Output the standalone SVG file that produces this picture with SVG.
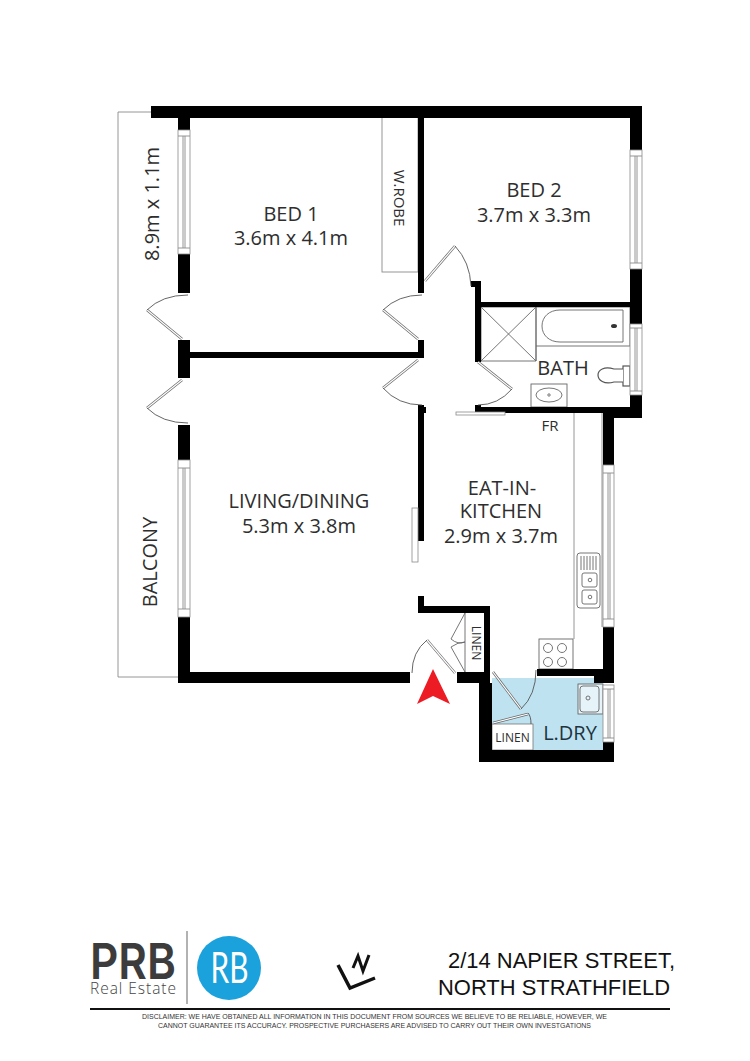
<svg xmlns="http://www.w3.org/2000/svg" width="750" height="1061" viewBox="0 0 750 1061">
<style>
.w{fill:#000}
.f{fill:#fff;stroke:#8a8a8a;stroke-width:.8}
.l{fill:none;stroke:#8a8a8a;stroke-width:.9}
.d{fill:none;stroke:#555;stroke-width:.9}
.k{fill:none;stroke:#666;stroke-width:.9}
.leaf{fill:none;stroke:#666;stroke-width:2.6;stroke-linecap:butt}
.leafi{fill:none;stroke:#fff;stroke-width:1.2}
text{font-family:"Open Sans","Liberation Sans",sans-serif;fill:#2e2e2e;text-anchor:middle}
.t20{font-size:20px}
.a{font-family:"Liberation Sans",Arial,sans-serif;fill:#111;font-size:22px;text-anchor:start}
.c{font-family:"Liberation Sans",Arial,sans-serif;fill:#333;font-size:7px;text-anchor:start}
</style>
<rect width="750" height="1061" fill="#fff"/>
<g id="floors">
<rect x="492" y="678" width="111" height="72" fill="#bee2f0"/>
<rect x="492" y="724" width="41" height="26" fill="#fff" stroke="#777" stroke-width=".8"/>
</g>
<g id="fixtures">
<path class="l" d="M151 112H118V677H178"/>
<rect class="l" x="382" y="112" width="36" height="160"/>
<path class="k" d="M481 307H536V361H481ZM481 307L536 361M536 307L481 361"/>
<path class="k" d="M536 307H630V346H536Z"/>
<path class="k" d="M623 310V342H560C549 342 542 335 542 326C542 317 549 310 560 310Z"/>
<ellipse cx="614" cy="326" rx="3" ry="2" fill="#333"/>
<path class="k" d="M536 346V361"/>
<rect class="k" x="531" y="384" width="36" height="23"/>
<ellipse class="k" cx="549" cy="395" rx="13" ry="7"/>
<circle class="k" cx="549" cy="395" r="1.2"/>
<rect x="623" y="366" width="7" height="20" fill="#fff" stroke="#555" stroke-width="1.2"/>
<path d="M623 369H614C604 366 598 370 598 375C598 380 604 385 614 382H623" fill="#fff" stroke="#555" stroke-width="1.2"/>
<path class="l" d="M574 413V639M602 413V627"/>
<rect class="k" x="539" y="639" width="34" height="30"/>
<circle class="k" cx="548" cy="648" r="4.5"/><circle class="k" cx="562" cy="648" r="4.5"/>
<circle class="k" cx="548" cy="662" r="4.5"/><circle class="k" cx="562" cy="662" r="4.5"/>
<rect class="k" x="577" y="553" width="23" height="55" rx="3"/>
<path class="k" d="M581 556V570M584 556V570M587 556V570M590 556V570M593 556V570M596 556V570"/>
<rect class="k" x="582" y="573" width="15" height="14" rx="2"/><circle class="k" cx="590" cy="580" r="1.8"/>
<rect class="k" x="582" y="590" width="15" height="14" rx="2"/><circle class="k" cx="590" cy="597" r="1.8"/>
<rect x="578" y="684" width="25" height="30" fill="#e6f3f8" stroke="#666" stroke-width=".9"/>
<rect class="k" x="580" y="686" width="19" height="26" rx="3"/>
<circle class="k" cx="588" cy="698" r="2"/>
</g>
<g id="walls" class="w">
<rect x="151" y="106" width="491" height="12"/>
<rect x="178" y="118" width="12" height="12"/>
<rect x="178" y="254" width="12" height="39"/>
<rect x="178" y="340" width="12" height="38"/>
<rect x="190" y="352" width="233" height="6"/>
<rect x="178" y="425" width="12" height="35"/>
<rect x="178" y="617" width="12" height="66"/>
<rect x="178" y="672" width="232" height="11"/>
<rect x="418" y="118" width="6" height="175"/>
<rect x="418" y="340" width="6" height="18"/>
<rect x="418" y="405" width="6" height="136"/>
<rect x="424" y="407" width="2" height="6"/>
<rect x="630" y="118" width="12" height="32"/>
<rect x="630" y="269" width="12" height="55"/>
<rect x="481" y="302" width="149" height="5"/>
<rect x="471" y="281" width="10" height="6"/>
<rect x="475" y="281" width="6" height="81"/>
<rect x="475" y="405" width="6" height="8"/>
<path d="M481 407H630V395H642V418H614V465H603V413H481Z"/>
<rect x="418" y="596" width="6" height="17"/>
<rect x="418" y="606" width="72" height="7"/>
<rect x="484" y="606" width="6" height="66"/>
<rect x="457" y="672" width="33" height="11"/>
<rect x="479" y="683" width="13" height="79"/>
<rect x="484" y="672" width="6" height="11"/>
<rect x="479" y="750" width="135" height="12"/>
<rect x="603" y="742" width="11" height="8"/>
<rect x="603" y="627" width="11" height="56"/>
<rect x="537" y="669" width="77" height="7"/>
<rect x="594" y="669" width="20" height="14"/>
</g>
<g id="windows">
<rect class="f" x="178" y="130" width="12" height="124"/><path class="l" d="M178 136H190M178 248H190M183 136V248M185 136V248"/>
<rect class="f" x="178" y="460" width="12" height="157"/><path class="l" d="M178 468H190M178 609H190M183 468V609M185 468V609"/>
<rect class="f" x="630" y="150" width="12" height="119"/><path class="l" d="M630 156H642M630 263H642M635 156V263M637 156V263"/>
<rect class="f" x="630" y="324" width="12" height="71"/><path class="l" d="M630 328H642M630 391H642M635 328V391M637 328V391"/>
<rect class="f" x="603" y="465" width="11" height="162"/><path class="l" d="M603 473H614M603 619H614M608 473V619M610 473V619"/>
<rect class="f" x="603" y="685" width="11" height="57"/><path class="l" d="M603 689H614M603 738H614M608 689V738M610 689V738"/>
</g>
<g id="doors">
<path class="leaf" d="M182 339L147 310"/><path class="leafi" d="M182 339L147 310"/><path class="d" d="M147 310Q162 295 188 295"/>
<path class="leaf" d="M182 380L147 408"/><path class="leafi" d="M182 380L147 408"/><path class="d" d="M147 408Q162 423 188 423"/>
<path class="leaf" d="M425 281L455 246"/><path class="leafi" d="M425 281L455 246"/><path class="d" d="M455 246Q470 262 471 286"/>
<path class="leaf" d="M418 339L383 310"/><path class="leafi" d="M418 339L383 310"/><path class="d" d="M383 310Q398 295 422 295"/>
<path class="leaf" d="M418 360L383 388"/><path class="leafi" d="M418 360L383 388"/><path class="d" d="M383 388Q398 405 422 405"/>
<path class="leaf" d="M478 362L512 389"/><path class="leafi" d="M478 362L512 389"/><path class="d" d="M512 389Q498 405 478 405"/>
<rect class="f" x="456" y="412" width="49" height="3"/>
<rect class="f" x="412" y="508" width="6" height="54"/>
<path class="k" d="M465 613V672"/>
<path class="k" d="M465 613L451 639Q458 645 465 642Q458 642 451 647L465 672"/>
<path class="leaf" d="M455 673L427 640"/><path class="leafi" d="M455 673L427 640"/><path class="d" d="M427 640Q412 652 412 673"/>
<path class="leaf" d="M493 672L521 709"/><path class="leafi" d="M493 672L521 709"/><path class="d" d="M521 709Q536 695 536 670"/>
<path class="leaf" d="M493 723L528 714"/><path class="leafi" d="M493 723L528 714"/><path class="d" d="M528 713Q531 716 531 724"/>
</g>
<g id="entry"><polygon points="433,669 450,704 433,696 417,704" fill="#ed1c24"/></g>
<g id="labels">
<text class="t20" x="291" y="221">BED 1</text>
<text class="t20" x="291" y="245">3.6m x 4.1m</text>
<text class="t20" x="534" y="197">BED 2</text>
<text class="t20" x="534" y="222">3.7m x 3.3m</text>
<text class="t20" x="299" y="508">LIVING/DINING</text>
<text class="t20" x="299" y="533">5.3m x 3.8m</text>
<text class="t20" x="502" y="495">EAT-IN-</text>
<text class="t20" x="501" y="518">KITCHEN</text>
<text class="t20" x="501" y="543">2.9m x 3.7m</text>
<text class="t20" x="563" y="375">BATH</text>
<text style="font-size:15px" x="550" y="431">FR</text>
<text class="t20" transform="translate(159 204) rotate(-90)">8.9m x 1.1m</text>
<text class="t20" transform="translate(157 562) rotate(-90)">BALCONY</text>
<text style="font-size:15px" transform="translate(394 198) rotate(90)">W.ROBE</text>
<text style="font-size:12px" transform="translate(472 643) rotate(90)">LINEN</text>
<text style="font-size:12px" x="512.500" y="742">LINEN</text>
<text style="font-size:20px;fill:#1d3440" x="570" y="740">L.DRY</text>
</g>
<g id="footer">
<text x="90" y="979" textLength="86" lengthAdjust="spacingAndGlyphs" style="font-size:50px;font-weight:600;fill:#3c3c3c;text-anchor:start;font-family:Inter,'Open Sans',sans-serif">PRB</text>
<text x="90" y="994" textLength="86" style="font-size:15.500px;font-weight:300;fill:#444;text-anchor:start;font-family:'Open Sans',sans-serif">Real Estate</text>
<rect x="186.500" y="931" width="1" height="73" fill="#666"/>
<circle cx="229" cy="968" r="32" fill="#1ba1dc"/>
<text x="229.500" y="983" textLength="38" lengthAdjust="spacingAndGlyphs" style="font-size:42px;fill:#fff;font-family:Lato,sans-serif">RB</text>
<g id="mark" fill="none" stroke="#111" stroke-linejoin="miter">
<path d="M338 965L350 988L375 978" stroke-width="3.500"/>
<path d="M353 968L358 956L363 971L369 955" stroke-width="3"/>
</g>
<text class="a" x="448" y="968" textLength="227" lengthAdjust="spacingAndGlyphs">2/14 NAPIER STREET,</text>
<text class="a" x="438" y="995" textLength="232" lengthAdjust="spacingAndGlyphs">NORTH STRATHFIELD</text>
<rect x="90" y="1008" width="580" height="2" fill="#111"/>
<text class="c" x="142" y="1019" textLength="465" lengthAdjust="spacingAndGlyphs">DISCLAIMER: WE HAVE OBTAINED ALL INFORMATION IN THIS DOCUMENT FROM SOURCES WE BELIEVE TO BE RELIABLE, HOWEVER, WE</text>
<text class="c" x="158" y="1028" textLength="433" lengthAdjust="spacingAndGlyphs">CANNOT GUARANTEE ITS ACCURACY. PROSPECTIVE PURCHASERS ARE ADVISED TO CARRY OUT THEIR OWN INVESTGATIONS</text>
</g>
</svg>
